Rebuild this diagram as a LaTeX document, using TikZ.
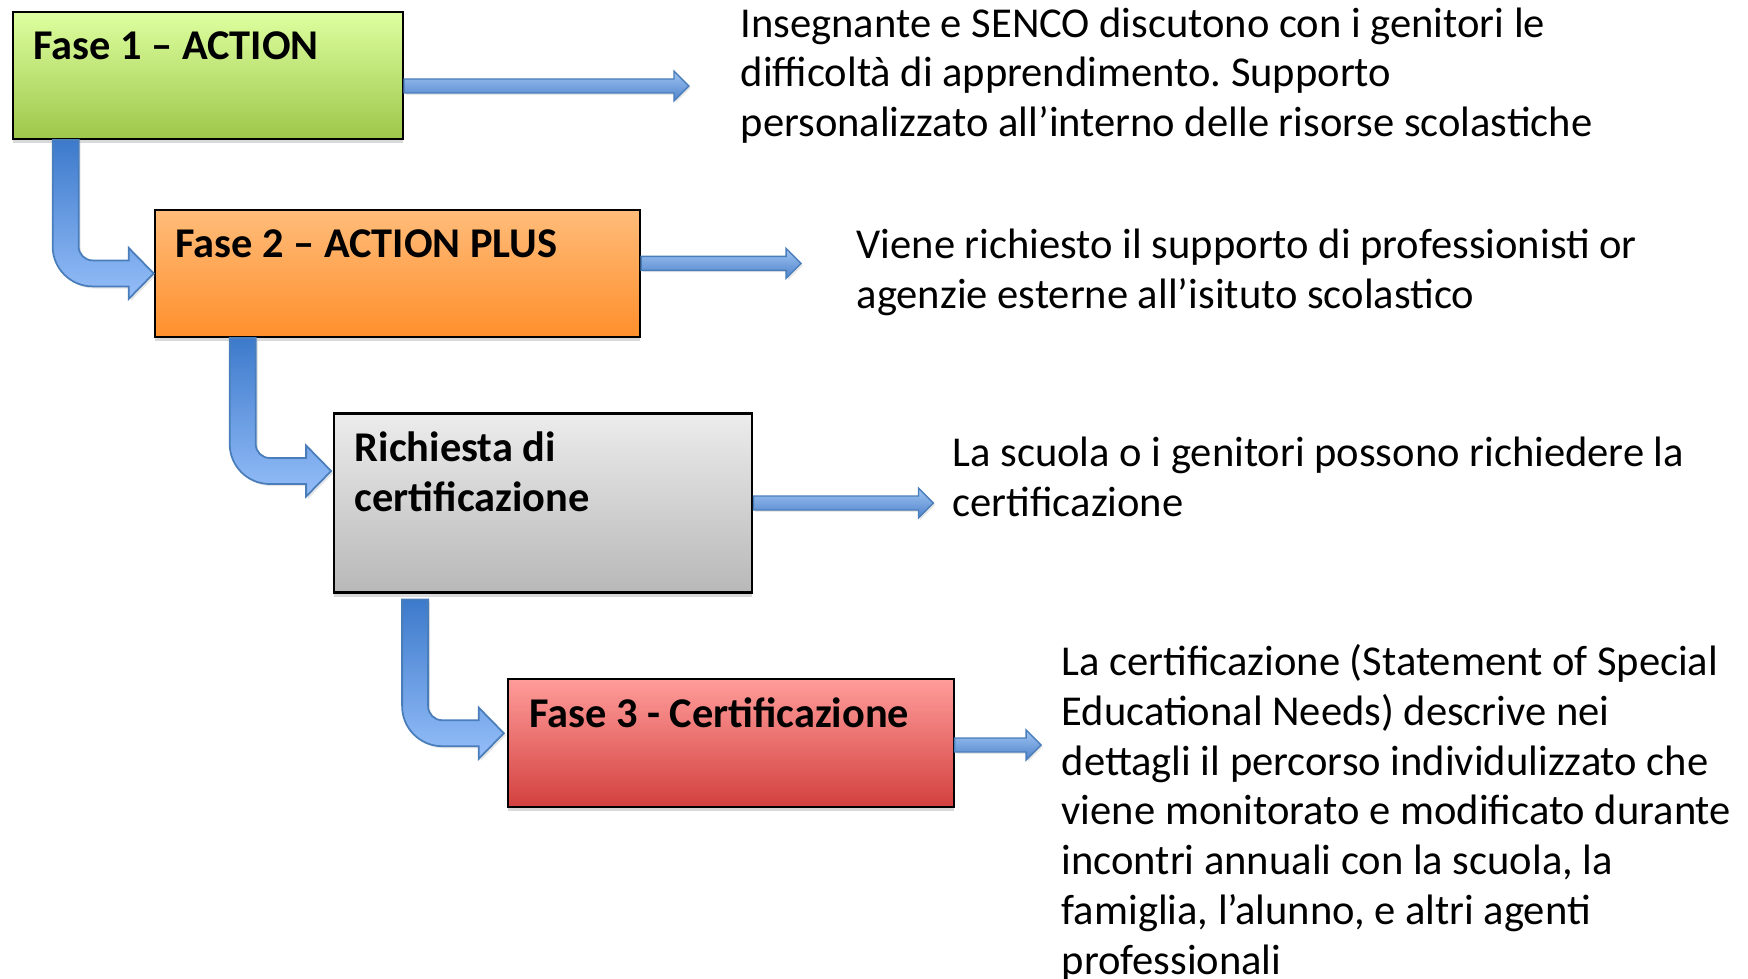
\documentclass[tikz,border=0pt]{standalone}
\usepackage{fontspec}
\setmainfont{Carlito}
\frenchspacing
\usetikzlibrary{calc, shadows, positioning}

\definecolor{greentop}{RGB}{222,255,160}
\definecolor{greenbot}{RGB}{157,199,74}
\definecolor{orangetop}{RGB}{255,188,122}
\definecolor{orangebot}{RGB}{255,143,44}
\definecolor{greytop}{RGB}{236,236,236}
\definecolor{greybot}{RGB}{184,184,184}
\definecolor{redtop}{RGB}{255,156,154}
\definecolor{redbot}{RGB}{210,64,62}
\definecolor{arrowline}{RGB}{74,126,187}
\definecolor{arrowdark}{RGB}{61,122,203}
\definecolor{arrowlight}{RGB}{149,190,249}
\definecolor{flatlight}{RGB}{160,196,242}
\definecolor{flatdark}{RGB}{79,131,204}

\tikzset{
phase/.style={rectangle, draw=black, line width=0.6pt, inner sep=0pt,
  drop shadow={shadow xshift=0pt, shadow yshift=-1.2pt, opacity=0.3}}, % the coloured boxes
title/.style={font=\fontsize{12.05pt}{14.2pt}\selectfont\bfseries, anchor=base west, inner sep=0pt, align=left},
note/.style={font=\fontsize{12.1pt}{14.14pt}\selectfont, anchor=base west, inner sep=0pt, align=left}, % base = last line
bent/.style={draw=arrowline, line width=0.5pt, top color=arrowdark, bottom color=arrowlight,
  drop shadow={shadow xshift=0.6pt, shadow yshift=-0.6pt, opacity=0.2}},
flat/.style={draw=arrowline, line width=0.4pt, top color=flatlight, bottom color=flatdark,
  drop shadow={shadow xshift=0.5pt, shadow yshift=-0.5pt, opacity=0.2}}
}

% block arrow going down and then right: #1 top of the shaft, #2 tip
\newcommand\bentarrow[2]{
  \path[bent] ($(#1)+(-13,0)$) -- ($(#1 |- #2)+(-13,-27)$)
    arc[start angle=180, end angle=90, radius=40]
    -- ($(#2)+(-25,13)$) -- ($(#2)+(-25,25.5)$) -- (#2)
    -- ($(#2)+(-25,-25.5)$) -- ($(#2)+(-25,-13)$)
    -- ($(#1 |- #2)+(27,-13)$) arc[start angle=90, end angle=180, radius=14]
    -- ($(#1)+(13,0)$) -- cycle;
}
% thin block arrow to the right: #1 start, #2 tip
\newcommand\flatarrow[2]{
  \path[flat] ($(#1)+(0,-7)$) -- ($(#2)+(-15,-7)$) -- ($(#2)+(-15,-15)$) -- (#2)
    -- ($(#2)+(-15,15)$) -- ($(#2)+(-15,7)$) -- ($(#1)+(0,7)$) -- cycle;
}

\begin{document}
\begin{tikzpicture}[x=0.01cm, y=-0.01cm]
  \path[use as bounding box] (0,0) rectangle (1748,979);

  \node[phase, top color=greentop, bottom color=greenbot, minimum width=3.9cm, minimum height=1.27cm] (f1) at (207.8,75.4) {};
  \node[phase, top color=orangetop, bottom color=orangebot, minimum width=4.85cm, minimum height=1.27cm] (f2) at (397.4,273.4) {};
  \node[phase, top color=greytop, bottom color=greybot, minimum width=4.18cm, minimum height=1.79cm] (f3) at (543.3,503) {};
  \node[phase, top color=redtop, bottom color=redbot, minimum width=4.45cm, minimum height=1.28cm] (f4) at (731,743.2) {};

  \node[title] (f1t) at ($(f1.north west)+(21,49)$) {Fase 1 – ACTION};
  \node[title] (f2t) at ($(f2.north west)+(21,49)$) {Fase 2 – ACTION PLUS};
  \node[title] (f3t) at ($(f3.north west)+(21,99)$) {Richiesta di\\certificazione};
  \node[title] (f4t) at ($(f4.north west)+(21,49)$) {Fase 3 - Certificazione};

  \node[note] (n1) at (740,136.7) {Insegnante e SENCO discutono con i genitori le\\difficoltà di apprendimento. Supporto\\personalizzato all’interno delle risorse scolastiche};
  \node[note] (n2) at (856,308) {Viene richiesto il supporto di professionisti or\\agenzie esterne all’isituto scolastico};
  \node[note] (n3) at (952,516.5) {La scuola o i genitori possono richiedere la\\certificazione};
  \node[note] (n4) at (1061,974) {La certificazione (Statement of Special\\Educational Needs) descrive nei\\dettagli il percorso individulizzato che\\viene monitorato e modificato durante\\incontri annuali con la scuola, la\\famiglia, l’alunno, e altri agenti\\professionali};

  \coordinate (h1s) at ($(f1.east)+(0,10.6)$);
  \coordinate (h1t) at ($(h1s)+(285,0)$);
  \coordinate (h2s) at ($(f2.east)+(0,-10)$);
  \coordinate (h2t) at ($(h2s)+(160,0)$);
  \coordinate (h3s) at (f3.east);
  \coordinate (h3t) at ($(h3s)+(180,0)$);
  \coordinate (h4s) at ($(f4.east)+(0,1.8)$);
  \coordinate (h4t) at ($(h4s)+(86.5,0)$);
  \flatarrow{h1s}{h1t}
  \flatarrow{h2s}{h2t}
  \flatarrow{h3s}{h3t}
  \flatarrow{h4s}{h4t}

  \coordinate (d1s) at ($(f1.south west)+(54,0)$);
  \coordinate (d1t) at (f2.west);
  \coordinate (d2s) at ($(f2.south west)+(89,0)$);
  \coordinate (d2t) at ($(f3.west)+(-2,-32)$);
  \coordinate (d3s) at ($(f3.south west)+(82,6)$);
  \coordinate (d3t) at ($(f4.west)+(-3.5,-10)$);
  \bentarrow{d1s}{d1t}
  \bentarrow{d2s}{d2t}
  \bentarrow{d3s}{d3t}
\end{tikzpicture}
\end{document}
